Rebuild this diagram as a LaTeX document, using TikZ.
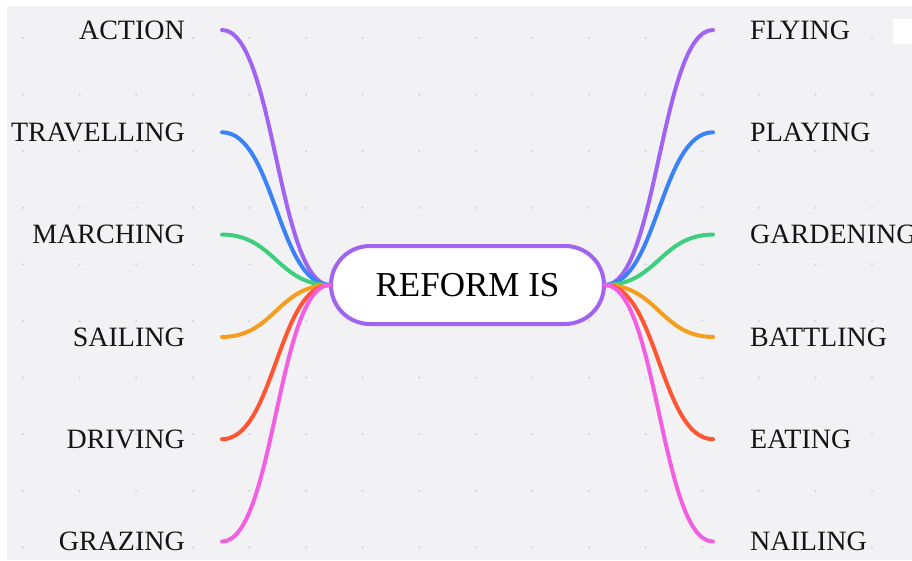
\documentclass[tikz,border=0pt]{standalone}
\usepackage{fontspec}
\setmainfont{Liberation Serif}
\usetikzlibrary{positioning,shapes.misc}
\definecolor{bggray}{HTML}{F2F2F5}
\definecolor{dotgray}{HTML}{D2D2D7}
\definecolor{brpurple}{HTML}{A064F0}
\definecolor{brblue}{HTML}{3B82F6}
\definecolor{brgreen}{HTML}{3ECF7E}
\definecolor{brorange}{HTML}{F59E1E}
\definecolor{brred}{HTML}{FF5533}
\definecolor{brpink}{HTML}{F25FE1}
\tikzset{
  lbl/.style={inner sep=0pt, text=black!92, font=\fontsize{28}{33}\selectfont},
  core/.style={rounded rectangle, draw=brpurple, line width=4pt, fill=white,
    minimum width=273pt, minimum height=78pt, inner sep=0pt,
    font=\fontsize{35}{41}\selectfont},
  branch/.style={line width=4pt, line cap=round}
}
\begin{document}
\begin{tikzpicture}[x=1pt,y=-1pt]
  \useasboundingbox (0,0) rectangle (912,560);
  % background and dot grid
  \fill[white] (0,0) rectangle (912,560);
  \fill[bggray] (7,6) rectangle (912,560);
  \foreach \i in {0,...,15}
    \foreach \j in {0,...,9}
      \fill[dotgray] (23+56.6*\i,38+56.6*\j) circle (1.2);
  \fill[white] (893,19) rectangle (912,44);

  \node[core] (reform) at (467.5,285) {REFORM IS};

  % left side
  \coordinate (l1) at (222,30);
  \coordinate (l2) at (222,132.3);
  \coordinate (l3) at (222,234.6);
  \coordinate (l4) at (222,336.9);
  \coordinate (l5) at (222,439.2);
  \coordinate (l6) at (222,541.5);
  \node[lbl, left=37pt of l1] (action) {ACTION};
  \node[lbl, left=37pt of l2] (travelling) {TRAVELLING};
  \node[lbl, left=37pt of l3] (marching) {MARCHING};
  \node[lbl, left=37pt of l4] (sailing) {SAILING};
  \node[lbl, left=37pt of l5] (driving) {DRIVING};
  \node[lbl, left=37pt of l6] (grazing) {GRAZING};
  \draw[branch, brpurple] ([xshift=1pt]reform.west) .. controls +(-52,0) and +(52,0) .. (l1);
  \draw[branch, brblue] ([xshift=1pt]reform.west) .. controls +(-52,0) and +(52,0) .. (l2);
  \draw[branch, brgreen] ([xshift=1pt]reform.west) .. controls +(-52,0) and +(52,0) .. (l3);
  \draw[branch, brorange] ([xshift=1pt]reform.west) .. controls +(-52,0) and +(52,0) .. (l4);
  \draw[branch, brred] ([xshift=1pt]reform.west) .. controls +(-52,0) and +(52,0) .. (l5);
  \draw[branch, brpink] ([xshift=1pt]reform.west) .. controls +(-52,0) and +(52,0) .. (l6);

  % right side
  \coordinate (r1) at (713,30);
  \coordinate (r2) at (713,132.3);
  \coordinate (r3) at (713,234.6);
  \coordinate (r4) at (713,336.9);
  \coordinate (r5) at (713,439.2);
  \coordinate (r6) at (713,541.5);
  \node[lbl, right=37pt of r1] (flying) {FLYING};
  \node[lbl, right=37pt of r2] (playing) {PLAYING};
  \node[lbl, right=37pt of r3] (gardening) {GARDENING};
  \node[lbl, right=37pt of r4] (battling) {BATTLING};
  \node[lbl, right=37pt of r5] (eating) {EATING};
  \node[lbl, right=37pt of r6] (nailing) {NAILING};
  \draw[branch, brpurple] ([xshift=-1pt]reform.east) .. controls +(52,0) and +(-52,0) .. (r1);
  \draw[branch, brblue] ([xshift=-1pt]reform.east) .. controls +(52,0) and +(-52,0) .. (r2);
  \draw[branch, brgreen] ([xshift=-1pt]reform.east) .. controls +(52,0) and +(-52,0) .. (r3);
  \draw[branch, brorange] ([xshift=-1pt]reform.east) .. controls +(52,0) and +(-52,0) .. (r4);
  \draw[branch, brred] ([xshift=-1pt]reform.east) .. controls +(52,0) and +(-52,0) .. (r5);
  \draw[branch, brpink] ([xshift=-1pt]reform.east) .. controls +(52,0) and +(-52,0) .. (r6);
\end{tikzpicture}
\end{document}
